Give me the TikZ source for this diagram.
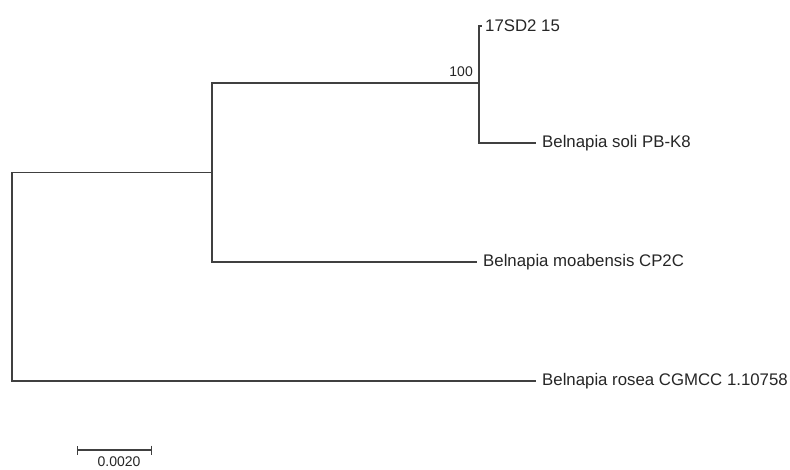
\documentclass[tikz,border=0pt]{standalone}
\usepackage{fontspec}
\setmainfont{Liberation Sans}
\usetikzlibrary{arrows.meta}
\begin{document}
\begin{tikzpicture}[x=1pt,y=-1pt,
  branch/.style={line width=1.5pt, draw=black!75, line cap=rect},
  leaf/.style={anchor=west, inner xsep=7pt, inner ysep=0pt, font=\fontsize{16.8}{19}\selectfont, text=black!85},
  small/.style={inner sep=0pt, font=\fontsize{14}{16}\selectfont, text=black!85}]
\useasboundingbox (0,0) rectangle (790,469);
% internal nodes
\coordinate (r) at (12,276.5);
\coordinate (a) at (212,172.5);
\coordinate (b) at (479,83);
% leaves
\node[leaf, inner xsep=6pt] (t1) at (479,26) {17SD2 15};
\node[leaf] (t2) at (535,143) {Belnapia soli PB-K8};
\node[leaf] (t3) at (476,262) {Belnapia moabensis CP2C};
\node[leaf] (t4) at (535,381) {Belnapia rosea CGMCC 1.10758};
% branches
\draw[branch] (t4.west) -| (r) |- (a);
\draw[branch] (t3.west) -| (a) |- (b);
\draw[branch] (t2.west) -| (b) -- (b |- t1.west) -- ++(2,0);
% bootstrap
\node[small, anchor=south east] (bs) at (473,77) {100};
% scale bar
\coordinate (s1) at (77,450);
\coordinate (s2) at (152,450);
\draw[line width=1.3pt, draw=black!75, {Bar[width=9pt]}-{Bar[width=9pt]}] (s1) -- (s2);
\node[small, anchor=north] (sl) at (119,457) {0.0020};
\end{tikzpicture}
\end{document}
